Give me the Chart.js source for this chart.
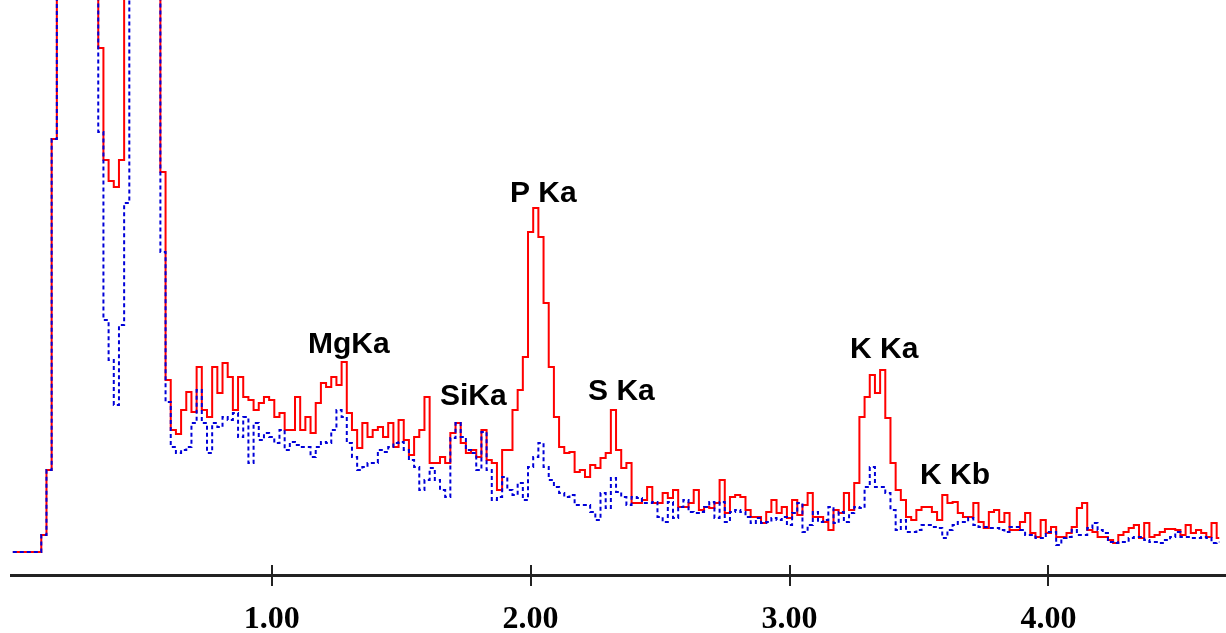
<!DOCTYPE html>
<html lang="en">
<head>
  <meta charset="UTF-8" />
  <title>EDS spectrum</title>
  <script src="https://cdn.jsdelivr.net/npm/chart.js"></script>
  <style>
    html, body { margin: 0; padding: 0; background: #fff; }
    #wrap { width: 1226px; height: 633px; position: relative; }
  </style>
</head>
<body>
  <div id="wrap"><canvas id="spectrum"></canvas></div>

  <script>
    // one channel every 0.02 keV, starting at 0
    const channelStep = 0.02;

    // counts (10 channels per row = 0.2 keV)
    const redCounts = [
      0, 0, 0, 0, 0, 0, 17, 82, 413, 900,
      900, 900, 900, 900, 900, 900, 900, 504, 392, 371,
      365, 392, 900, 900, 900, 900, 900, 900, 900, 380,
      172, 122, 118, 142, 160, 140, 185, 142, 135, 185,
      159, 189, 175, 142, 175, 155, 152, 142, 149, 155,
      152, 135, 139, 122, 122, 155, 122, 135, 119, 149,
      169, 165, 175, 167, 190, 139, 122, 104, 129, 115,
      122, 125, 115, 129, 105, 132, 112, 97, 115, 122,
      155, 89, 89, 95, 89, 119, 129, 109, 99, 102,
      95, 122, 92, 89, 62, 102, 102, 142, 162, 195,
      320, 344, 315, 249, 185, 135, 105, 99, 100, 80,
      82, 75, 87, 84, 94, 99, 142, 102, 84, 89,
      49, 49, 52, 65, 49, 49, 59, 54, 62, 45,
      45, 49, 62, 42, 45, 44, 49, 72, 39, 55,
      57, 55, 42, 35, 35, 29, 40, 52, 39, 45,
      34, 52, 37, 47, 59, 35, 35, 30, 22, 42,
      39, 59, 42, 69, 135, 155, 177, 159, 182, 134,
      89, 62, 52, 35, 32, 42, 45, 45, 40, 32,
      57, 49, 50, 39, 35, 35, 49, 30, 24, 40,
      42, 30, 39, 22, 22, 30, 39, 19, 15, 32,
      19, 25, 15, 15, 19, 25, 44, 49, 22, 20,
      15, 15, 12, 9, 17, 20, 24, 27, 14, 29,
      15, 17, 20, 23, 23, 22, 17, 27, 19, 22,
      19, 15, 29, 14
    ];

    const blueCounts = [
      0, 0, 0, 0, 0, 0, 17, 82, 413, 900,
      900, 900, 900, 900, 900, 900, 900, 420, 232, 192,
      147, 227, 349, 900, 900, 900, 900, 900, 900, 300,
      150, 105, 99, 102, 105, 129, 162, 129, 99, 129,
      125, 135, 132, 139, 115, 135, 89, 129, 112, 119,
      115, 109, 122, 102, 110, 107, 105, 105, 95, 105,
      110, 109, 122, 142, 135, 109, 95, 82, 85, 89,
      89, 102, 100, 105, 109, 110, 102, 92, 85, 62,
      72, 84, 72, 62, 55, 114, 129, 115, 102, 99,
      82, 120, 82, 52, 55, 75, 62, 57, 69, 52,
      85, 95, 109, 85, 72, 65, 59, 55, 57, 47,
      47, 47, 40, 32, 59, 44, 74, 60, 55, 47,
      55, 54, 49, 49, 50, 35, 30, 50, 34, 45,
      52, 40, 39, 40, 45, 50, 34, 50, 30, 40,
      42, 40, 35, 29, 34, 29, 30, 34, 32, 35,
      27, 39, 49, 20, 27, 40, 30, 32, 45, 29,
      40, 30, 39, 45, 44, 65, 85, 65, 65, 59,
      42, 22, 32, 20, 20, 22, 27, 27, 25, 24,
      14, 22, 27, 30, 30, 34, 27, 25, 25, 24,
      24, 22, 20, 25, 25, 22, 17, 17, 14, 14,
      20, 20, 7, 14, 15, 22, 17, 17, 24, 29,
      22, 19, 10, 9, 10, 10, 14, 15, 15, 12,
      10, 10, 9, 12, 15, 20, 15, 15, 14, 14,
      15, 14, 9, 10
    ];

    const energies = redCounts.map((_, i) => +(i * channelStep).toFixed(2));
    const tickValues = [1, 2, 3, 4];

    // line names and where they sit (keV, counts)
    const peakNames = ['MgKa', 'SiKa', 'P Ka', 'S Ka', 'K Ka', 'K Kb'];
    const peakEnergies = [1.14, 1.65, 1.92, 2.222, 3.234, 3.504];
    const peakCounts = [199, 147, 350, 152, 194, 68];

    // ticks that cross the axis line
    const tickMarks = {
      id: 'tickMarks',
      afterDraw(chart) {
        const xs = chart.scales.x;
        const c = chart.ctx;
        c.save();
        c.strokeStyle = '#222';
        c.lineWidth = 2;
        xs.ticks.forEach(t => {
          const px = Math.round(xs.getPixelForValue(t.value));
          c.beginPath();
          c.moveTo(px, xs.top - 10);
          c.lineTo(px, xs.top + 11);
          c.stroke();
        });
        c.restore();
      }
    };

    const peakLabels = {
      id: 'peakLabels',
      afterDatasetsDraw(chart) {
        const { ctx: c, scales: { x, y } } = chart;
        c.save();
        c.font = 'bold 30px "Liberation Sans", Arial, sans-serif';
        c.fillStyle = '#000';
        c.textAlign = 'left';
        c.textBaseline = 'alphabetic';
        peakNames.forEach((name, i) => {
          c.fillText(name, x.getPixelForValue(peakEnergies[i]), y.getPixelForValue(peakCounts[i]));
        });
        c.restore();
      }
    };

    const toPoints = arr => arr.map((v, i) => ({ x: energies[i], y: v }));

    new Chart(document.getElementById('spectrum'), {
      type: 'line',
      data: {
        datasets: [
          {
            label: 'blue',
            data: toPoints(blueCounts),
            borderColor: '#0000d8',
            borderWidth: 2,
            borderDash: [4, 3],
            stepped: 'middle',
            pointRadius: 0,
            fill: false
          },
          {
            label: 'red',
            data: toPoints(redCounts),
            borderColor: '#ff0000',
            borderWidth: 2,
            stepped: 'middle',
            pointRadius: 0,
            fill: false
          }
        ]
      },
      options: {
        animation: false,
        responsive: true,
        maintainAspectRatio: false,
        layout: { padding: { left: 11, right: 0, top: 0, bottom: 0 } },
        plugins: {
          legend: { display: false },
          tooltip: { enabled: false }
        },
        scales: {
          x: {
            type: 'linear',
            min: -0.007,
            max: 4.686,
            grid: { display: false },
            border: { display: true, color: '#222', width: 3 },
            afterBuildTicks: s => { s.ticks = tickValues.map(v => ({ value: v })); },
            afterFit: s => { s.height = 58; },
            ticks: {
              padding: 18,
              color: '#000',
              maxRotation: 0,
              autoSkip: false,
              font: { family: '"Liberation Serif", serif', size: 32, weight: 'bold', lineHeight: 1.2 },
              callback: v => Number(v).toFixed(2)
            }
          },
          y: { display: false, min: -23, max: 552 }
        }
      },
      plugins: [tickMarks, peakLabels]
    });
  </script>
</body>
</html>
